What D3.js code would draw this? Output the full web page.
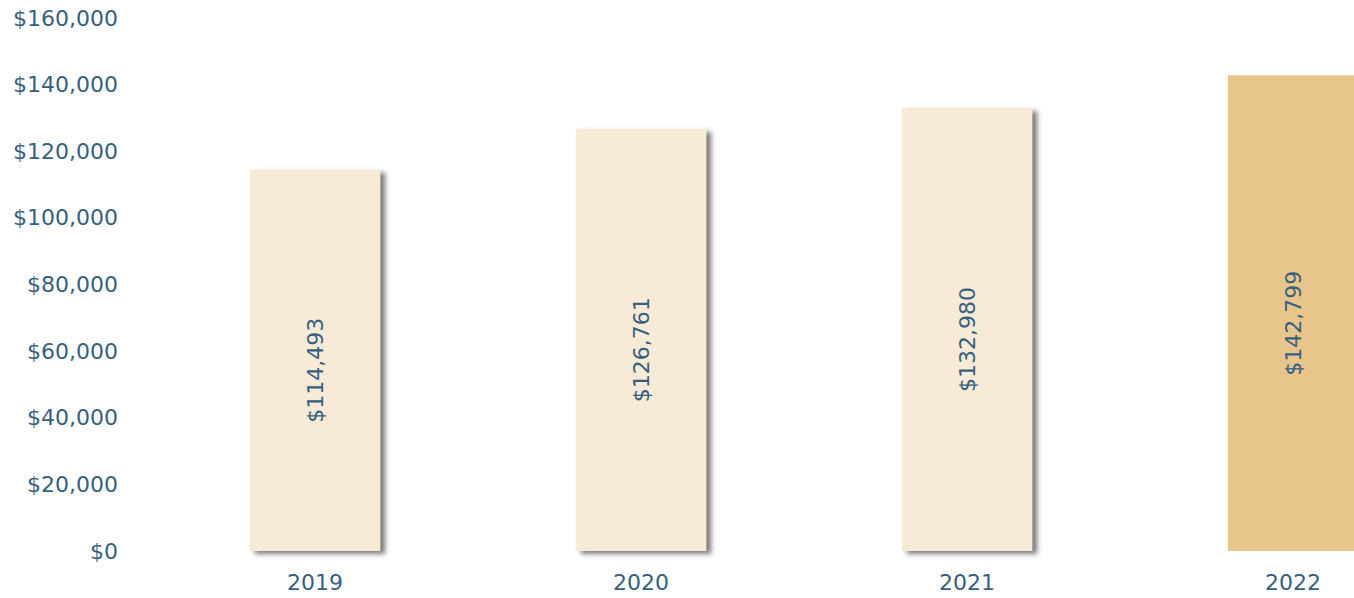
<!DOCTYPE html>
<html>
<head>
<meta charset="utf-8">
<script src="https://d3js.org/d3.v7.min.js"></script>
<style>
    html, body { margin: 0; padding: 0; background: #fff; overflow: hidden; }
    text { font-family: "DejaVu Sans", sans-serif; fill: #37607f; }
</style>
</head>
<body>
<script>
const years = ["2019", "2020", "2021", "2022"];
const salaries = [114493, 126761, 132980, 142799];
const yTicks = [0, 20000, 40000, 60000, 80000, 100000, 120000, 140000, 160000];

document.addEventListener("DOMContentLoaded", function () {
    const width = 1354;
    const height = 598;

    const svg = d3.select("body").append("svg")
        .attr("width", width)
        .attr("height", height);

    const defs = svg.append("defs");
    defs.append("filter")
        .attr("id", "barShadow")
        .attr("x", "-10%").attr("y", "-10%")
        .attr("width", "130%").attr("height", "130%")
        .append("feDropShadow")
        .attr("dx", 5)
        .attr("dy", 3)
        .attr("stdDeviation", 2.5)
        .attr("flood-color", "#444")
        .attr("flood-opacity", 0.7);

    const x = d3.scaleBand()
        .domain(years)
        .range([152, 1456])
        .paddingInner(0.6)
        .paddingOuter(0.3);

    const y = d3.scaleLinear()
        .domain([0, 160000])
        .range([551, 18]);

    const fmt = d3.format("$,");

    // y axis labels, no line
    const yAxis = svg.append("g")
        .attr("transform", "translate(118,0)")
        .call(d3.axisLeft(y).tickValues(yTicks).tickSize(0).tickPadding(0).tickFormat(fmt));
    yAxis.select(".domain").remove();
    yAxis.selectAll("text")
        .attr("font-size", 22)
        .attr("font-family", null)
        .attr("fill", null);

    svg.append("g")
        .selectAll("rect")
        .data(years)
        .enter()
        .append("rect")
        .attr("x", d => x(d))
        .attr("y", (d, i) => y(salaries[i]))
        .attr("width", x.bandwidth())
        .attr("height", (d, i) => y(0) - y(salaries[i]))
        .attr("fill", (d, i) => i === years.length - 1 ? "#e8c68b" : "#f7ebd7")
        .attr("filter", (d, i) => i === years.length - 1 ? null : "url(#barShadow)");

    svg.append("g")
        .selectAll("text")
        .data(years)
        .enter()
        .append("text")
        .attr("transform", (d, i) => {
            const cx = x(d) + x.bandwidth() / 2;
            const cy = (y(salaries[i]) + y(0)) / 2 + 10;
            return `translate(${cx},${cy}) rotate(-90)`;
        })
        .attr("text-anchor", "middle")
        .attr("dy", "0.35em")
        .attr("font-size", 22)
        .text((d, i) => fmt(salaries[i]));

    // x axis labels
    const xAxis = svg.append("g")
        .attr("transform", "translate(0,551)")
        .call(d3.axisBottom(x).tickSize(0).tickPadding(23));
    xAxis.select(".domain").remove();
    xAxis.selectAll("text")
        .attr("font-size", 22)
        .attr("font-family", null)
        .attr("fill", null);
});
</script>
</body>
</html>
